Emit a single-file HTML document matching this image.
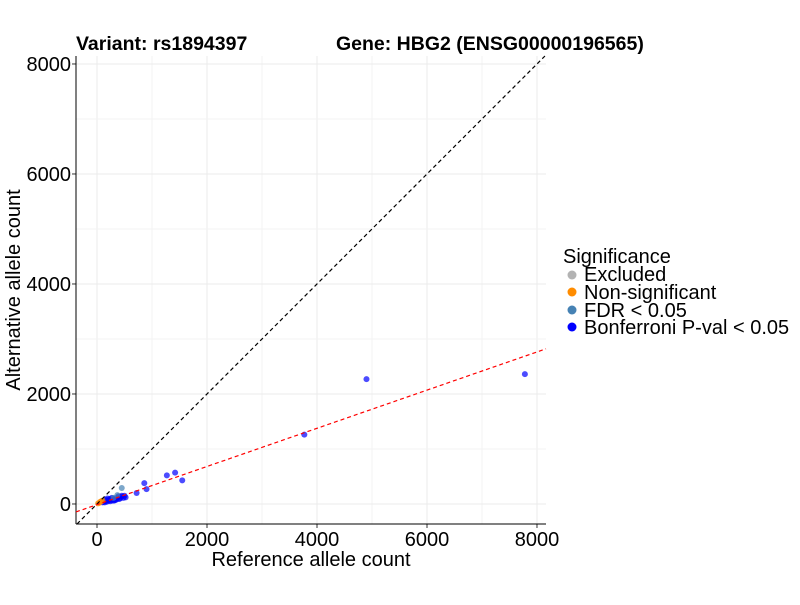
<!DOCTYPE html>
<html><head><meta charset="utf-8"><style>
body{margin:0;background:#fff;}
svg text{font-family:"Liberation Sans",Arial,sans-serif;}
</style></head><body>
<svg width="800" height="600" id="c">
<text x="76" y="50" font-size="19.5" font-weight="bold">Variant: rs1894397</text>
<text x="336" y="50" font-size="19.5" font-weight="bold">Gene: HBG2 (ENSG00000196565)</text>
<g id="grid"></g>
<g id="axes"></g>
<g id="pts"></g>
<text x="311" y="566" font-size="20" text-anchor="middle">Reference allele count</text>
<text transform="translate(20,290) rotate(-90)" font-size="20" text-anchor="middle">Alternative allele count</text>
<g>
<text x="563" y="263" font-size="20">Significance</text>
<circle cx="572" cy="275" r="4.5" fill="#b3b3b3"/>
<text x="584" y="281" font-size="20">Excluded</text>
<circle cx="572" cy="292" r="4.5" fill="#ff8c00"/>
<text x="584" y="299" font-size="20">Non-significant</text>
<circle cx="572" cy="310" r="4.5" fill="#4682b4"/>
<text x="584" y="317" font-size="20">FDR &lt; 0.05</text>
<circle cx="572" cy="327" r="4.5" fill="#0000ff"/>
<text x="584" y="334" font-size="20">Bonferroni P-val &lt; 0.05</text>
</g>
</svg>
<script>
const xTicks=[0,2000,4000,6000,8000];
const yTicks=[0,2000,4000,6000,8000];
const refCounts=[7780,4900,3770,1550,1420,1270,900,860,720,520,480,450,420,400,380,350,330,300,280,260,240,220,200,180,160,140,120,100,500,440,390,340,310,270,230,190,150,450,370,300,60,40,80,20,100];
const altCounts=[2360,2270,1260,430,570,520,270,380,200,120,110,150,100,90,120,80,70,90,60,80,50,60,70,40,50,30,40,30,150,130,140,100,60,110,90,100,80,290,160,110,40,20,50,10,60];
const groups=["b","b","b","b","b","b","b","b","b","b","b","b","b","b","b","b","b","b","b","b","b","b","b","b","b","b","b","b","b","b","b","b","b","b","b","b","b","f","f","f","n","n","n","n","n"];
const fitSlope=0.347, fitIntercept=-12;
const X0=-382,X1=8164,Y0=-364,Y1=8145,L=76,R=546,T=56,B=524;
const sx=v=>L+(v-X0)/(X1-X0)*(R-L);
const sy=v=>B-(v-Y0)/(Y1-Y0)*(B-T);
const NS="http://www.w3.org/2000/svg";
function mk(p,tag,a){const e=document.createElementNS(NS,tag);for(const k in a)e.setAttribute(k,a[k]);p.appendChild(e);return e;}
const g=document.getElementById('grid'),ax=document.getElementById('axes'),pts=document.getElementById('pts');
for(let i=0;i<xTicks.length;i++){const x=sx(xTicks[i]);
 const l=mk(g,'line',{x1:x,x2:x,y1:T,y2:B,stroke:'#ebebeb'});
 if(i<xTicks.length-1){const m=sx((xTicks[i]+xTicks[i+1])/2);const l2=mk(g,'line',{x1:m,x2:m,y1:T,y2:B,stroke:'#f3f3f3'});}
 const t=mk(ax,'line',{x1:x,x2:x,y1:B,y2:B+4,stroke:'#333'});
 const tx=mk(ax,'text',{x:x,y:B+22,'font-size':20,'text-anchor':'middle'});tx.textContent=xTicks[i];}
for(let i=0;i<yTicks.length;i++){const y=sy(yTicks[i]);
 const l=mk(g,'line',{x1:L,x2:R,y1:y,y2:y,stroke:'#ebebeb'});
 if(i<yTicks.length-1){const m=sy((yTicks[i]+yTicks[i+1])/2);const l2=mk(g,'line',{x1:L,x2:R,y1:m,y2:m,stroke:'#f3f3f3'});}
 const t=mk(ax,'line',{x1:L-4,x2:L,y1:y,y2:y,stroke:'#333'});
 const tx=mk(ax,'text',{x:L-5,y:y+7,'font-size':20,'text-anchor':'end'});tx.textContent=yTicks[i];}
let a=mk(ax,'line',{x1:L,x2:L,y1:T,y2:B,stroke:'#000'});
a=mk(ax,'line',{x1:L,x2:R,y1:B,y2:B,stroke:'#000'});
const col={b:'#0000ff',f:'#4682b4',n:'#ff8c00',e:'#b3b3b3'};
for(let i=0;i<refCounts.length;i++){const c=mk(pts,'circle',{cx:sx(refCounts[i]),cy:sy(altCounts[i]),r:3,fill:col[groups[i]],'fill-opacity':0.7});
 }
let d=mk(pts,'line',{x1:sx(Math.max(X0,Y0)),y1:sy(Math.max(X0,Y0)),x2:sx(8145),y2:sy(8145),stroke:'#000','stroke-dasharray':'4,3','stroke-width':1.2});

d=mk(pts,'line',{x1:sx(X0),y1:sy(fitIntercept+fitSlope*X0),x2:sx(X1),y2:sy(fitIntercept+fitSlope*X1),stroke:'#ff0000','stroke-dasharray':'4,3','stroke-width':1.2});

</script>
</body></html>
